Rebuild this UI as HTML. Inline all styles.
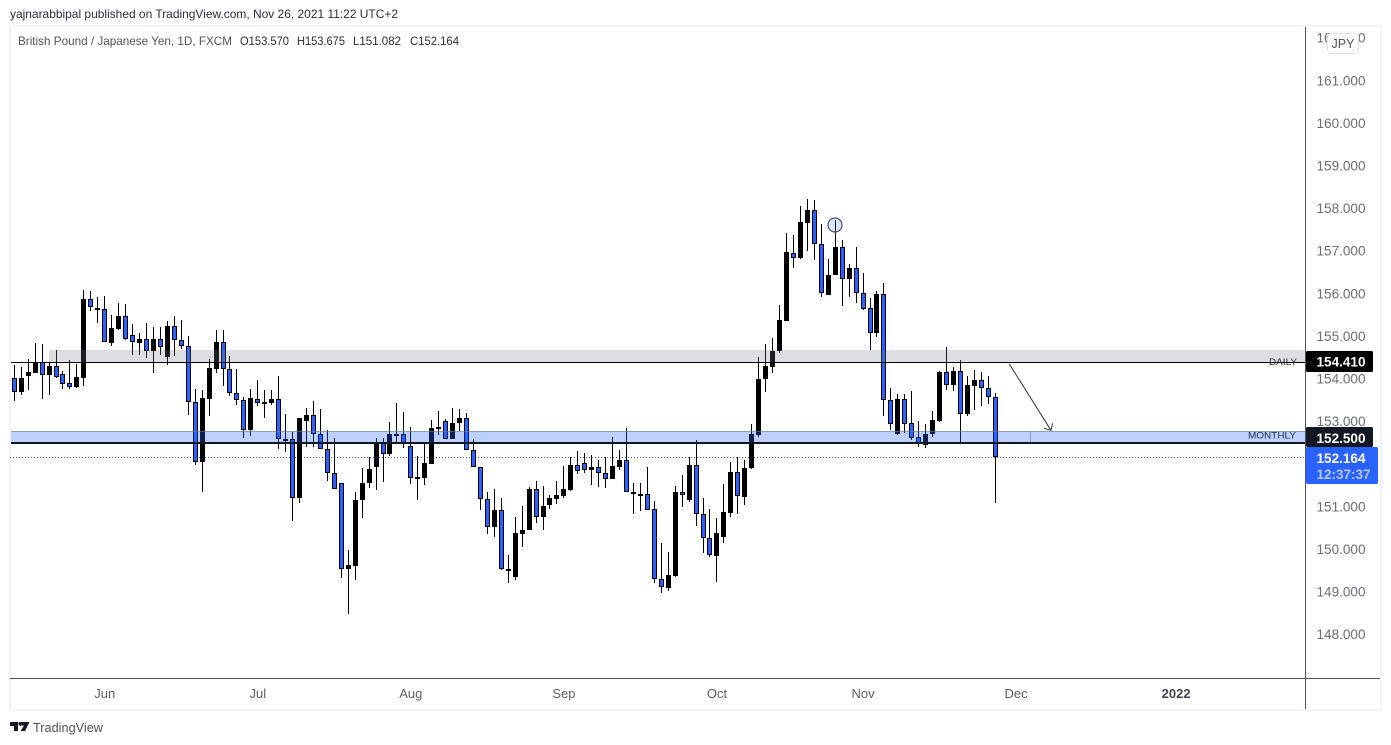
<!DOCTYPE html>
<html lang="en">
<head>
<meta charset="utf-8">
<title>GBP/JPY 1D chart</title>
<style>
html,body{margin:0;padding:0;background:#fff;width:1391px;height:745px;overflow:hidden}
svg{display:block;font-family:"Liberation Sans",sans-serif}
</style>
</head>
<body>
<svg id="chart" width="1391" height="745" viewBox="0 0 1391 745" xmlns="http://www.w3.org/2000/svg">
  <rect width="1391" height="745" fill="#ffffff"/>
  <text x="10" y="18" font-size="12" fill="#2a2e39" textLength="388" lengthAdjust="spacingAndGlyphs">yajnarabbipal published on TradingView.com, Nov 26, 2021 11:22 UTC+2</text>
  <g fill="#f0f3fa">
    <rect x="9" y="25" width="1373" height="2"/>
    <rect x="9" y="709" width="1373" height="2"/>
    <rect x="9" y="25" width="2" height="686"/>
    <rect x="1380" y="25" width="2" height="686"/>
  </g>
  <text x="18" y="45" font-size="12" fill="#50535e" textLength="214" lengthAdjust="spacingAndGlyphs">British Pound / Japanese Yen, 1D, FXCM</text>
  <text x="240" y="45" font-size="12" fill="#2a2e39" textLength="49" lengthAdjust="spacingAndGlyphs">O153.570</text>
  <text x="297" y="45" font-size="12" fill="#2a2e39" textLength="48" lengthAdjust="spacingAndGlyphs">H153.675</text>
  <text x="353" y="45" font-size="12" fill="#2a2e39" textLength="48" lengthAdjust="spacingAndGlyphs">L151.082</text>
  <text x="410" y="45" font-size="12" fill="#2a2e39" textLength="49" lengthAdjust="spacingAndGlyphs">C152.164</text>

  <g id="priceLine"></g>
  <g id="candles" shape-rendering="crispEdges"></g>
  <g id="overlays" shape-rendering="crispEdges"></g>

  <circle cx="835" cy="225" r="7" fill="rgba(41,98,255,0.16)" stroke="#50535e" stroke-width="1.2"/>
  <g fill="none" stroke="#333333" stroke-width="1">
    <line x1="1009.3" y1="364" x2="1051" y2="430.3"/>
    <polyline points="1044,428.3 1051,430.3 1052.7,423.3"/>
  </g>
  <text x="1297" y="365" font-size="9.5" fill="#2a2e39" text-anchor="end" textLength="28" lengthAdjust="spacingAndGlyphs">DAILY</text>
  <text x="1296" y="438.5" font-size="9.5" fill="#1e2a50" text-anchor="end" textLength="48" lengthAdjust="spacingAndGlyphs">MONTHLY</text>

  <rect x="10" y="678" width="1370" height="1" fill="#50535e"/>
  <rect x="1305" y="27" width="1" height="682" fill="#50535e"/>
  <g id="yAxis"></g>
  <g id="xAxis"></g>

  <g>
    <rect x="1327.5" y="33.5" width="31" height="20" rx="4" fill="#ffffff" stroke="#e0e3eb"/>
    <text x="1343" y="48" font-size="12.5" fill="#50535e" text-anchor="middle">JPY</text>
  </g>

  <g>
    <rect x="1306" y="351" width="67" height="21" rx="1.5" fill="#000000"/>
    <text x="1316.5" y="366.5" font-size="13.5" font-weight="bold" fill="#ffffff" textLength="49" lengthAdjust="spacingAndGlyphs">154.410</text>
  </g>
  <g>
    <rect x="1306" y="427" width="67" height="20" rx="1.5" fill="#131722"/>
    <text x="1316.5" y="443" font-size="13.5" font-weight="bold" fill="#ffffff" textLength="49" lengthAdjust="spacingAndGlyphs">152.500</text>
  </g>
  <g>
    <rect x="1306" y="447" width="72" height="37" rx="1.5" fill="#2962ff"/>
    <text x="1316.5" y="463" font-size="13.5" font-weight="bold" fill="#ffffff" textLength="49" lengthAdjust="spacingAndGlyphs">152.164</text>
    <text x="1316.5" y="479" font-size="13.5" font-weight="bold" fill="#b4c8ff" textLength="54" lengthAdjust="spacingAndGlyphs">12:37:37</text>
  </g>

  <g>
    <path d="M10 722H18V731H14V726H10Z M19.5 722H29.5L25 731H20.5L24 725.5H21.5A1.9 1.9 0 0 1 19.5 722Z" fill="#131722"/>
    <text x="33" y="732" font-size="13" fill="#50535e" textLength="70" lengthAdjust="spacingAndGlyphs">TradingView</text>
  </g>
</svg>
<script>
var opens = [154.02,153.70,154.08,154.15,154.41,154.10,154.30,154.11,153.90,153.82,154.03,155.87,155.63,155.64,154.85,155.18,155.49,155.03,154.85,154.93,154.65,154.95,154.52,155.24,154.91,154.78,153.45,152.04,153.54,154.24,154.86,154.23,153.66,153.50,152.80,153.54,153.43,153.44,153.52,152.58,152.58,151.20,153.02,153.15,152.72,152.35,151.79,151.55,149.53,149.62,151.15,151.57,151.94,152.49,152.25,152.70,152.72,152.42,151.67,151.68,152.01,152.83,153.01,152.58,152.96,153.08,152.33,151.93,151.18,150.52,150.92,149.55,149.36,150.37,150.45,151.41,150.75,151.05,151.19,151.26,151.40,151.97,152.02,151.86,151.93,151.79,151.66,151.94,152.11,151.34,151.28,151.29,150.96,149.30,149.10,149.38,151.34,151.17,151.97,150.82,150.26,149.85,150.30,150.86,151.81,151.24,151.90,152.69,153.99,154.29,154.65,155.37,156.95,156.83,157.67,157.96,157.16,155.98,156.43,157.11,156.34,156.60,156.03,155.66,155.07,155.99,153.50,152.72,153.52,152.96,152.63,152.46,152.72,153.02,154.16,153.87,154.18,153.19,153.84,153.97,153.78,153.570];
var highs = [154.33,154.27,154.46,154.84,154.81,154.41,154.67,154.18,154.45,154.35,156.09,156.06,155.92,155.95,155.50,155.79,155.76,155.28,155.07,155.31,155.22,155.22,155.35,155.48,155.39,155.01,153.77,153.74,154.46,155.14,155.14,154.54,154.24,153.57,153.77,153.98,153.74,153.74,154.07,153.18,152.75,153.08,153.33,153.48,153.30,152.80,152.61,151.57,149.98,151.35,151.90,152.16,152.61,152.61,152.99,153.44,153.22,152.87,152.19,152.49,153.03,153.24,153.05,153.32,153.29,153.20,152.58,151.93,151.34,151.41,151.21,149.88,150.76,151.01,151.46,151.60,151.50,151.27,151.60,151.95,152.18,152.30,152.26,152.21,152.09,152.16,152.63,152.33,152.84,151.55,151.57,151.93,151.13,150.14,149.95,151.48,151.74,152.18,152.56,151.20,150.94,150.73,151.53,152.04,152.16,152.09,152.94,154.51,154.82,154.96,155.73,157.42,157.37,158.06,158.23,158.20,157.65,156.81,157.74,157.26,156.69,157.09,156.48,155.89,156.06,156.25,153.78,153.64,153.64,153.73,153.01,152.94,153.26,154.18,154.74,154.27,154.44,154.06,154.20,154.16,154.06,153.675];
var lows = [153.49,153.63,153.74,154.13,153.54,153.62,154.02,153.77,153.77,153.80,153.84,155.60,155.32,154.86,154.78,155.15,154.92,154.57,154.57,154.50,154.15,154.57,154.34,154.54,154.70,153.16,151.97,151.34,153.12,154.13,153.84,153.61,153.40,152.62,152.67,153.37,153.09,153.40,152.36,152.29,150.67,151.10,152.41,152.41,152.35,151.61,151.41,149.34,148.48,149.29,150.74,151.43,151.40,151.59,152.20,152.51,152.38,151.54,151.17,151.52,152.01,152.68,152.58,152.58,152.79,152.33,151.93,150.93,150.37,150.30,149.52,149.20,149.29,150.06,150.45,150.63,150.46,150.96,151.07,151.21,151.36,151.78,151.80,151.52,151.47,151.43,151.66,151.87,151.34,150.84,150.89,150.92,149.20,148.97,149.03,149.36,151.00,151.12,150.56,149.92,149.81,149.24,150.16,150.75,150.82,151.05,151.88,152.64,153.70,154.13,154.60,155.37,156.61,156.82,157.01,156.80,155.93,155.98,156.43,155.72,155.93,155.79,155.63,154.67,154.98,153.13,152.80,152.69,152.74,152.57,152.41,152.39,152.65,152.98,153.75,153.73,152.51,153.14,153.28,153.37,153.42,151.082];
var closes = [153.70,154.02,154.16,154.41,154.10,154.30,154.05,153.89,153.82,154.04,155.87,155.70,155.66,154.86,155.19,155.49,154.95,154.86,154.93,154.65,154.95,154.74,155.24,154.91,154.78,153.45,152.04,153.55,154.25,154.86,154.23,153.66,153.50,152.80,153.55,153.43,153.45,153.52,152.58,152.59,151.20,153.08,153.15,152.72,152.35,151.79,151.41,149.53,149.63,151.15,151.57,151.88,152.49,152.25,152.70,152.72,152.49,151.67,151.69,152.02,152.84,152.87,152.58,152.96,153.08,152.33,151.93,151.18,150.52,150.92,149.55,149.49,150.38,150.45,151.41,150.75,151.03,151.20,151.27,151.41,151.97,151.83,151.86,151.93,151.79,151.66,151.95,152.11,151.34,151.29,151.29,150.92,149.30,149.11,149.39,151.34,151.28,151.97,150.82,150.26,149.86,150.38,150.87,151.81,151.25,151.90,152.70,153.99,154.30,154.65,155.38,156.97,156.85,157.68,157.96,157.16,156.03,156.43,157.11,156.34,156.60,156.03,155.65,155.07,155.99,153.50,152.95,153.52,152.95,152.62,152.47,152.72,153.03,154.16,153.87,154.18,153.19,153.85,153.97,153.78,153.57,152.164];

var priceTicks = [162,161,160,159,158,157,156,155,154,153,151,150,149,148];
var monthLabels = ["Jun","Jul","Aug","Sep","Oct","Nov","Dec","2022"];
var monthIndex = [13,35,57,79,101,122,144,167];
var dailyLevel = 154.41;
var dailyZoneTop = 154.67;
var monthlyLevel = 152.5;
var monthlyZoneTop = 152.78;
var lastPrice = 152.164;

var NS = "http://www.w3.org/2000/svg";
function xScale(i) { return 14.3 + 6.957 * i; }
function yScale(p) { return 379 + (154 - p) * 42.6; }
function mk(parent, tag, attrs) {
  var el = document.createElementNS(NS, tag);
  for (var k in attrs) { el.setAttribute(k, attrs[k]); }
  parent.appendChild(el);
  return el;
}

var lineG = document.getElementById("priceLine");
var dotted = mk(lineG, "line", {x1: 10, x2: 1305, y1: Math.round(yScale(lastPrice)) + 0.5, y2: Math.round(yScale(lastPrice)) + 0.5, stroke: "#2962ff", "stroke-width": 1, "stroke-dasharray": "1 2"});



var cg = document.getElementById("candles");
function drawCandle(i) {
  var cx = Math.floor(xScale(i));
  var isUp = closes[i] >= opens[i];
  var bodyTop = Math.round(yScale(Math.max(opens[i], closes[i])));
  var bodyBot = Math.round(yScale(Math.min(opens[i], closes[i])));
  if (bodyBot - bodyTop < 2) { bodyBot = bodyTop + 2; }
  var hy = Math.round(yScale(highs[i]));
  var ly = Math.round(yScale(lows[i]));
  var g = mk(cg, "g", {});
  
  
  mk(g, "rect", {x: cx, y: hy, width: 1, height: Math.max(ly - hy, 1), fill: "#000000"});
  mk(g, "rect", {x: cx - 2, y: bodyTop, width: 5, height: bodyBot - bodyTop, fill: "#000000"});
  if (!isUp && bodyBot - bodyTop > 2) {
    mk(g, "rect", {x: cx - 1, y: bodyTop + 1, width: 3, height: bodyBot - bodyTop - 2, fill: "#2962ff"});
  }
}
for (var n = 0; n < opens.length; n++) { drawCandle(n); }

var ov = document.getElementById("overlays");
var dz = Math.round(yScale(dailyZoneTop));
var dl = Math.round(yScale(dailyLevel));
var mz = Math.round(yScale(monthlyZoneTop));
var ml = Math.round(yScale(monthlyLevel));
var dailyZone = mk(ov, "rect", {x: 49, y: dz, width: 1256, height: dl - dz, fill: "rgba(120,123,134,0.25)"});


var dailyLine = mk(ov, "rect", {x: 11, y: dl, width: 1294, height: 1, fill: "#000000"});


var monthlyZone = mk(ov, "rect", {x: 11, y: mz, width: 1294, height: ml - mz, fill: "rgba(41,98,255,0.3)"});


var monthlyTop = mk(ov, "rect", {x: 11, y: mz, width: 1294, height: 1, fill: "rgba(120,123,134,0.6)"});


var monthlyDivider = mk(ov, "rect", {x: 1030, y: mz, width: 1, height: ml - mz, fill: "rgba(120,123,134,0.6)"});


var monthlyLine = mk(ov, "rect", {x: 11, y: ml - 1, width: 1294, height: 2, fill: "#131722"});



var ya = document.getElementById("yAxis");
priceTicks.forEach(function (p) {
  var t = mk(ya, "text", {x: 1316.5, y: yScale(p) + 4.5, "font-size": 13.5, fill: "#6a6d78", textLength: 49, lengthAdjust: "spacingAndGlyphs"});
  
  
  t.textContent = p.toFixed(3);
});

var xa = document.getElementById("xAxis");
monthLabels.forEach(function (m, k) {
  var isYear = m === "2022";
  var t = mk(xa, "text", {x: xScale(monthIndex[k]), y: 698, "font-size": 13, "text-anchor": "middle", fill: isYear ? "#434651" : "#5d606b", "font-weight": isYear ? "bold" : "normal"});
  
  
  t.textContent = m;
});
</script>
</body>
</html>
